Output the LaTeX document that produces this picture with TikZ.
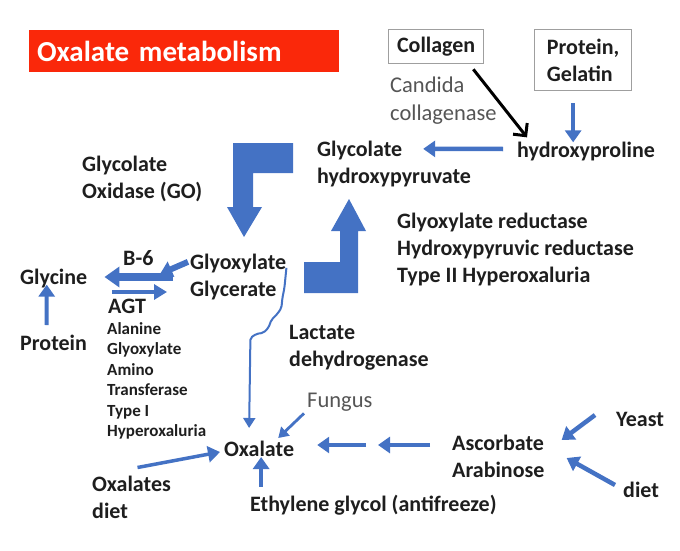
\documentclass[tikz,border=0pt]{standalone}
\usepackage{fontspec}
\setmainfont{Carlito}
\usetikzlibrary{arrows.meta, positioning, calc}
\definecolor{slideblue}{RGB}{68,114,196}
\definecolor{titlered}{RGB}{250,40,10}
\definecolor{ink}{RGB}{30,30,30}
\definecolor{enzgray}{RGB}{85,85,85}

\begin{document}
\begin{tikzpicture}[
    x=1pt, y=-1pt,
    term/.style={anchor=west, inner sep=0pt, align=left, text=ink, font=\fontsize{22}{27}\selectfont\bfseries},
    note/.style={term, font=\fontsize{17}{20.5}\selectfont\bfseries},
    enzyme/.style={term, text=enzgray, font=\fontsize{22.5}{28}\selectfont},
    source/.style={rectangle, draw=gray!75, line width=1.3pt, anchor=north west, inner sep=0pt, align=left, text=ink, font=\fontsize{22}{27}\selectfont\bfseries},
    headline/.style={anchor=north west, fill=titlered, text=white, inner xsep=8pt, inner ysep=0pt, text width=294pt, minimum height=42pt, align=left, font=\fontsize{29}{32}\selectfont\bfseries},
    flow/.style={-{Triangle[length=12pt,width=16pt]}, line width=4.5pt, slideblue},
    thinflow/.style={-{Triangle[length=10pt,width=12pt]}, line width=2.8pt, slideblue},
    blockarrow/.style={fill=slideblue}
]
    \useasboundingbox (0,0) rectangle (680,551);

    % Title
    \node[headline] (title) at (29,30) {Oxalate metabolism};

    % Sources at the top
    \node[source, minimum width=95pt, minimum height=34pt] (collagen) at (388,29) {Collagen};
    \node[source, minimum width=97pt, minimum height=61pt] (gelatin) at (534,29) {Protein,\\Gelatin};
    \node[enzyme] (candida) at (390,101) {Candida\\collagenase};
    \node[term] (hyp) at (517,152) {hydroxyproline};
    \node[term] (glycolate) at (317,164) {Glycolate\\hydroxypyruvate};
    \node[term] (go) at (82,179) {Glycolate\\Oxidase (GO)};
    \node[term] (reductase) at (397,250) {Glyoxylate reductase\\Hydroxypyruvic reductase\\Type II Hyperoxaluria};

    % Middle
    \node[term] (glyox) at (190,277) {Glyoxylate\\Glycerate};
    \node[term] (b6) at (123,258) {B-6};
    \node[term] (glycine) at (20,279) {Glycine};
    \node[term] (agt) at (108,306) {AGT};
    \node[note] (agtnote) at (107,381) {Alanine\\Glyoxylate\\Amino\\Transferase\\Type I\\Hyperoxaluria};
    \node[term] (protein) at (20,343) {Protein};
    \node[term] (lactate) at (289,348) {Lactate\\dehydrogenase};

    % Bottom
    \node[enzyme] (fungus) at (307,402) {Fungus};
    \node[term] (oxalate) at (224,449) {Oxalate};
    \node[term] (oxdiet) at (92,497) {Oxalates\\diet};
    \node[term] (ethylene) at (250,505) {Ethylene glycol (antifreeze)};
    \node[term] (ascorbate) at (452,456) {Ascorbate\\Arabinose};
    \node[term] (yeast) at (616,419) {Yeast};
    \node[term] (diet) at (623,490) {diet};
    \coordinate (relay) at (374,445);

    % Block arrows
    \fill[blockarrow] (293,143) -- (233,143) -- (233,207) -- (227,207) -- (244,237)
        -- (262,207) -- (253,207) -- (253,173) -- (293,173) -- cycle;
    \fill[blockarrow] (304,262) -- (304,293) -- (358,293) -- (358,231) -- (366,231)
        -- (349,199) -- (331,231) -- (340,231) -- (340,262) -- cycle;

    % Connections
    \draw[-{Straight Barb[length=9pt,width=18pt]}, line width=3pt, black]
        ($(collagen.south east)+(-11,5)$) -- ($(hyp.north west)+(10,-5)$);
    \draw[flow, line width=4pt, shorten <=12pt] ([xshift=-10pt]gelatin.south) -- ([xshift=-10pt]gelatin.south |- hyp.north);
    \draw[flow] ($(hyp.west)+(-14,-3)$) -- ($(glycolate.north east)+(-48,8)$);
    \draw[flow, line width=6pt] ($(glyox.north west)+(-2,8)$) -- ($(glyox.west)+(-30,-3)$);
    \draw[flow, line width=8pt, -{Triangle[length=15pt,width=20pt]}] ($(glyox.west)+(-17,0)$) -- ($(glycine.east)+(17,-2)$);
    \draw[flow, line width=4.5pt, -{Triangle[length=13pt,width=15pt]}] ($(glycine.east)+(25,13)$) -- ($(glyox.west)+(-23,15)$);
    \draw[flow, line width=4pt, shorten <=10pt, shorten >=-4pt] ([xshift=-7pt]protein.north) -- ([xshift=-7pt]glycine.south);
    \draw[slideblue, line width=2pt, rounded corners=2pt, -{Triangle[length=10pt,width=12pt]}]
        ($(glyox.north east)+(0,14)$) -- ++(-2,20) -- ++(-2,10) -- ++(-1,10) -- ++(-4,6) -- ++(-6,6)
        -- ++(-3,8) -- ++(-5,5) -- ++(-7,1) -- ++(-6,4) -- ($(oxalate.north)+(-10,-13)$);
    \draw[thinflow] ($(fungus.south west)+(-3,2)$) -- ($(oxalate.north east)+(-16,-3)$);
    \draw[flow, line width=3.5pt] ($(oxdiet.north)+(6,-8)$) -- ($(oxalate.west)+(-4,3)$);
    \draw[flow, shorten <=8pt] ([xshift=2pt]oxalate.south |- ethylene.north) -- ([xshift=2pt]oxalate.south);
    \draw[flow, shorten <=22pt, shorten >=4pt] (ascorbate.west |- relay) -- (relay);
    \draw[flow, shorten <=8pt, shorten >=23pt] (relay) -- (oxalate.east |- relay);
    \draw[flow] ($(yeast.west)+(-21,-4)$) -- ($(ascorbate.east)+(17,-16)$);
    \draw[flow] ($(diet.west)+(-8,-5)$) -- ($(ascorbate.east)+(22,2)$);
\end{tikzpicture}
\end{document}
